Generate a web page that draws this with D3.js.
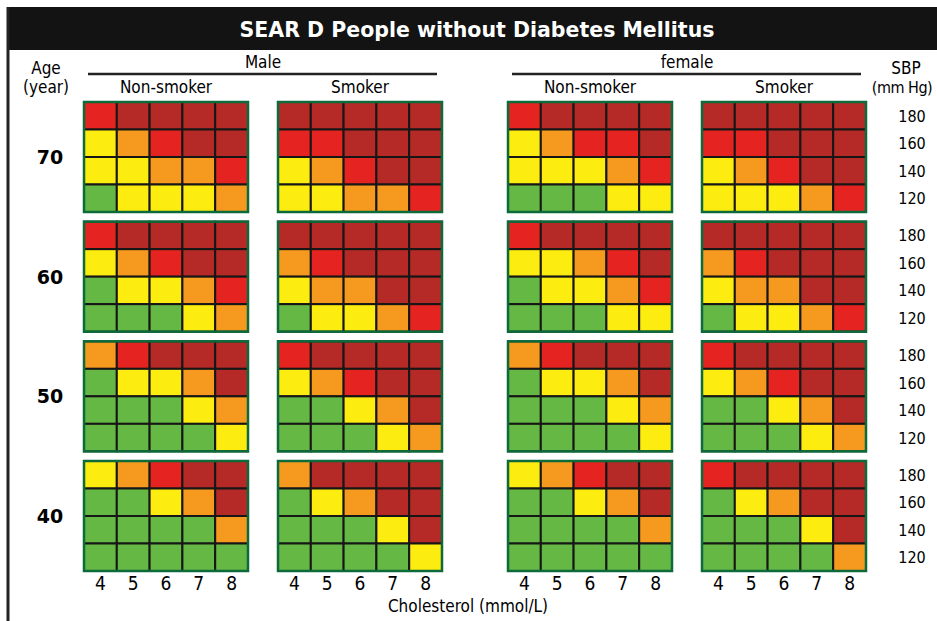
<!DOCTYPE html>
<html><head><meta charset="utf-8">
<script src="https://cdn.jsdelivr.net/npm/d3@7"></script>
<style>body{margin:0;background:#fff}svg{display:block}text{font-family:"DejaVu Sans Condensed","DejaVu Sans",Verdana,sans-serif}</style>
</head><body>
<script>
// ---- data ----
const title = "SEAR D People without Diabetes Mellitus";
const ages = [70, 60, 50, 40];
const sexes = ["Male", "female"];
const smoking = ["Non-smoker", "Smoker"];
const sbpLevels = [180, 160, 140, 120];      // rows, top to bottom
const cholesterol = [4, 5, 6, 7, 8];         // columns
// risk level: 1 green, 2 yellow, 3 orange, 4 red, 5 dark red
// each age: [male non-smoker, male smoker, female non-smoker, female smoker]; rows SBP 180..120
const risk70 = [
  [[4,5,5,5,5],[2,3,4,5,5],[2,2,3,3,4],[1,2,2,2,3]],
  [[5,5,5,5,5],[4,4,5,5,5],[2,3,4,5,5],[2,2,3,3,4]],
  [[4,5,5,5,5],[2,3,4,4,5],[2,2,2,3,4],[1,1,1,2,2]],
  [[5,5,5,5,5],[4,4,5,5,5],[2,3,4,5,5],[2,2,2,3,4]]
];
const risk60 = [
  [[4,5,5,5,5],[2,3,4,5,5],[1,2,2,3,4],[1,1,1,2,3]],
  [[5,5,5,5,5],[3,4,5,5,5],[2,3,3,5,5],[1,2,2,3,4]],
  [[4,5,5,5,5],[2,2,3,4,5],[1,2,2,3,4],[1,1,1,2,2]],
  [[5,5,5,5,5],[3,4,5,5,5],[2,3,3,5,5],[1,2,2,3,4]]
];
const risk50 = [
  [[3,4,5,5,5],[1,2,2,3,5],[1,1,1,2,3],[1,1,1,1,2]],
  [[4,5,5,5,5],[2,3,4,5,5],[1,1,2,3,5],[1,1,1,2,3]],
  [[3,4,5,5,5],[1,2,2,3,5],[1,1,1,2,3],[1,1,1,1,2]],
  [[4,5,5,5,5],[2,3,4,5,5],[1,1,2,3,5],[1,1,1,2,3]]
];
const risk40 = [
  [[2,3,4,5,5],[1,1,2,3,5],[1,1,1,1,3],[1,1,1,1,1]],
  [[3,5,5,5,5],[1,2,3,5,5],[1,1,1,2,5],[1,1,1,1,2]],
  [[2,3,4,5,5],[1,1,2,3,5],[1,1,1,1,3],[1,1,1,1,1]],
  [[4,5,5,5,5],[1,2,3,5,5],[1,1,1,2,5],[1,1,1,1,3]]
];
const riskLevels = [1, 2, 3, 4, 5];
const riskColors = ["#66b844", "#fcec0f", "#f59a1f", "#e52421", "#b52a27"];
const xTitle = "Cholesterol (mmol/L)";

// ---- layout ----
const W = 937, H = 621;
const svg = d3.select("body").append("svg").attr("width", W).attr("height", H);
const byAge = {70: risk70, 60: risk60, 50: risk50, 40: risk40};
const color = d3.scaleOrdinal(riskLevels, riskColors);

const gridW = 164, gridH = 110;
const sexX = d3.scaleOrdinal(sexes, [84, 508]);
const smokeX = d3.scaleOrdinal(smoking, [0, 194]);
const ageY = d3.scalePoint(ages, [102, 461]);
const x = d3.scaleBand(cholesterol, [0, gridW]).padding(0);
const y = d3.scaleBand(sbpLevels, [0, gridH]).padding(0);

// title bar + left border
svg.append("rect").attr("x", 7).attr("y", 7).attr("width", W - 7).attr("height", 43).attr("fill", "#131313");
svg.append("line").attr("x1", 8).attr("x2", 8).attr("y1", 7).attr("y2", H).attr("stroke", "#222").attr("stroke-width", 3);
svg.append("text").attr("x", 477).attr("y", 37).attr("text-anchor", "middle")
  .style("font-family", "'DejaVu Sans',Verdana,sans-serif")
  .attr("fill", "#fff").attr("font-weight", "bold").attr("font-size", 20.5).text(title);

// headers
svg.append("text").attr("x", 46).attr("y", 74).attr("text-anchor", "middle").attr("font-size", 17).text("Age");
svg.append("text").attr("x", 46).attr("y", 93).attr("text-anchor", "middle").attr("font-size", 17).text("(year)");
svg.append("text").attr("x", 906).attr("y", 74).attr("text-anchor", "middle").attr("font-size", 17).text("SBP");
svg.append("text").attr("x", 902).attr("y", 93).attr("text-anchor", "middle").attr("font-size", 16)
  .attr("letter-spacing", -0.5).text("(mm Hg)");

sexes.forEach(s => {
  const x0 = sexX(s);
  svg.append("text").attr("x", x0 + (194 + gridW) / 2).attr("y", 68).attr("text-anchor", "middle").attr("font-size", 17).text(s);
  svg.append("line").attr("x1", x0 + 4).attr("x2", x0 + 194 + gridW - 5).attr("y1", 74).attr("y2", 74)
    .attr("stroke", "#222").attr("stroke-width", 2.5);
  smoking.forEach(sm => {
    svg.append("text").attr("x", x0 + smokeX(sm) + gridW / 2).attr("y", 93).attr("text-anchor", "middle")
      .attr("font-size", 17).text(sm);
  });
});

// grids
ages.forEach(age => {
  const y0 = ageY(age);
  svg.append("text").attr("x", 50).attr("y", y0 + gridH / 2 + 7).attr("text-anchor", "middle")
    .style("font-family", "'DejaVu Sans',Verdana,sans-serif")
    .attr("font-weight", "bold").attr("font-size", 19).text(age);
  sbpLevels.forEach(sbp => {
    svg.append("text").attr("x", 912).attr("y", y0 + y(sbp) + y.bandwidth() / 2 + 6)
      .attr("text-anchor", "middle").attr("font-size", 16).text(sbp);
  });
  const panels = byAge[age];
  let p = 0;
  sexes.forEach(s => smoking.forEach(sm => {
    const grid = panels[p++];
    const g = svg.append("g").attr("transform", `translate(${sexX(s) + smokeX(sm)},${y0})`);
    const cells = [];
    sbpLevels.forEach((sbp, r) => cholesterol.forEach((c, ci) => cells.push({sbp, c, v: grid[r][ci]})));
    g.selectAll("rect.cell").data(cells).join("rect").attr("class", "cell")
      .attr("x", d => x(d.c)).attr("y", d => y(d.sbp))
      .attr("width", x.bandwidth()).attr("height", y.bandwidth())
      .attr("fill", d => color(d.v)).attr("stroke", "#161616").attr("stroke-width", 2);
    g.append("rect").attr("x", 0).attr("y", 0).attr("width", gridW).attr("height", gridH)
      .attr("fill", "none").attr("stroke", "#0d6a3a").attr("stroke-width", 2.5);
    if (age === 40) {
      g.selectAll("text.tick").data(cholesterol).join("text").attr("class", "tick")
        .attr("x", d => x(d) + x.bandwidth() / 2).attr("y", gridH + 19)
        .attr("text-anchor", "middle").attr("font-size", 19).text(d => d);
    }
  }));
});

svg.append("text").attr("x", 468).attr("y", 612).attr("text-anchor", "middle").attr("font-size", 17).text(xTitle);
</script>
</body></html>
